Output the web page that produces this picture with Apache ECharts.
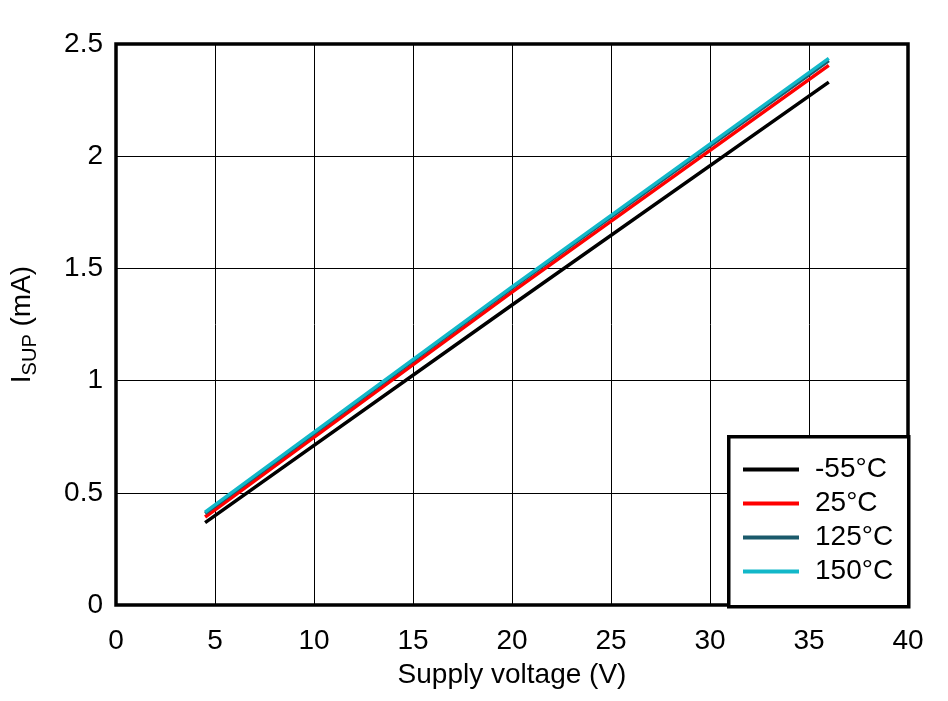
<!DOCTYPE html>
<html><head><meta charset="utf-8">
<script src="https://cdn.jsdelivr.net/npm/echarts@6/dist/echarts.min.js"></script>
<style>html,body{margin:0;padding:0;background:#fff}#c{width:948px;height:701px}</style>
</head><body><div id="c"></div>
<script>
const seriesNames = ['-55°C', '25°C', '125°C', '150°C'];
const seriesColors = ['#000000', '#ff0000', '#1b5a6b', '#12b8c9'];
const voltage = [4.5, 20, 36];
const isupM55 = [0.367, 1.337, 2.330];
const isup25 = [0.392, 1.394, 2.405];
const isup125 = [0.408, 1.412, 2.426];
const isup150 = [0.414, 1.418, 2.436];
const allValues = [isupM55, isup25, isup125, isup150];

const font = "'Liberation Sans', Arial, sans-serif";
const fs = 28;
const chart = echarts.init(document.getElementById('c'), null, {renderer: 'canvas'});
const series = allValues.map((vals, i) => ({
  name: seriesNames[i], type: 'line', showSymbol: false, symbol: 'none',
  data: voltage.map((v, j) => [v, vals[j]]),
  lineStyle: {color: seriesColors[i], width: 3.5}, itemStyle: {color: seriesColors[i]},
  z: 3 + i
}));
chart.setOption({
  animation: false,
  backgroundColor: '#fff',
  grid: {left: 114, right: 40, top: 44, bottom: 96, show: true, borderColor: '#000', borderWidth: 3.5, backgroundColor: 'transparent', z: 10},
  xAxis: {
    type: 'value', min: 0, max: 40, interval: 5,
    name: 'Supply voltage (V)', nameLocation: 'middle', nameGap: 56,
    nameTextStyle: {fontFamily: font, fontSize: fs, color: '#000'},
    axisLine: {show: false}, axisTick: {show: false},
    axisLabel: {fontFamily: font, fontSize: fs, color: '#000', margin: 22},
    splitLine: {show: true, lineStyle: {color: '#000', width: 1}}
  },
  yAxis: {
    type: 'value', min: 0, max: 2.5, interval: 0.5,
    name: '{a|I}{b|SUP}{a| (mA)}', nameLocation: 'middle', nameGap: 80,
    nameTextStyle: {fontFamily: font, fontSize: fs, color: '#000',
      rich: {a: {fontFamily: font, fontSize: fs, color: '#000', verticalAlign: 'bottom'},
             b: {fontFamily: font, fontSize: 20, color: '#000', verticalAlign: 'bottom', padding: [0, 0, -4, 0]}}},
    axisLine: {show: false}, axisTick: {show: false},
    axisLabel: {fontFamily: font, fontSize: fs, color: '#000', margin: 13},
    splitLine: {show: true, lineStyle: {color: '#000', width: 1}}
  },
  legend: {
    orient: 'vertical', left: 743, top: 454, itemGap: 3, padding: 0,
    itemWidth: 56, itemHeight: 4, icon: 'rect',
    textStyle: {fontFamily: font, fontSize: fs, color: '#000', padding: [0, 0, 0, 11], lineHeight: 31},
    data: seriesNames.map((n, i) => ({name: n, itemStyle: {color: seriesColors[i]}})),
    z: 20
  },
  graphic: [{type: 'rect', left: 727, top: 435, z: 15,
    shape: {width: 180, height: 170}, style: {fill: '#fff', stroke: '#000', lineWidth: 3.5}}],
  series: series
});
</script></body></html>
